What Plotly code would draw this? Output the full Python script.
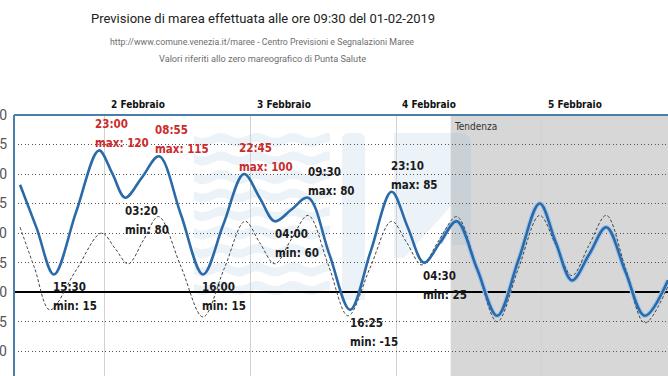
import math
import plotly.graph_objects as go

# ---------------- data ----------------
blue_times = [
    "2019-02-01 10:00", "2019-02-01 12:45", "2019-02-01 15:35", "2019-02-01 19:15",
    "2019-02-01 23:00", "2019-02-02 01:10", "2019-02-02 03:20", "2019-02-02 06:05",
    "2019-02-02 08:55", "2019-02-02 12:30", "2019-02-02 16:10", "2019-02-02 19:30",
    "2019-02-02 22:55", "2019-02-03 01:30", "2019-02-03 04:00", "2019-02-03 06:45",
    "2019-02-03 09:30", "2019-02-03 13:00", "2019-02-03 16:25", "2019-02-03 19:50",
    "2019-02-03 23:15", "2019-02-04 01:55", "2019-02-04 04:35", "2019-02-04 07:15",
    "2019-02-04 10:00", "2019-02-04 13:20", "2019-02-04 16:40", "2019-02-04 20:10",
    "2019-02-04 23:40", "2019-02-05 02:20", "2019-02-05 05:00", "2019-02-05 07:50",
    "2019-02-05 10:40", "2019-02-05 13:50", "2019-02-05 17:00", "2019-02-05 20:50",
]
blue_vals = [
    91, 54, 15, 68,
    120, 101, 80, 97,
    115, 66, 15, 57,
    100, 80, 60, 70,
    80, 32, -15, 35,
    85, 55, 25, 42,
    60, 20, -20, 27,
    75, 42, 10, 32,
    55, 17, -20, 10,
]

astro_times = [
    "2019-02-01 10:00", "2019-02-01 12:25", "2019-02-01 14:55", "2019-02-01 19:10",
    "2019-02-01 23:25", "2019-02-02 01:40", "2019-02-02 03:50", "2019-02-02 06:20",
    "2019-02-02 08:50", "2019-02-02 12:30", "2019-02-02 16:10", "2019-02-02 19:40",
    "2019-02-02 23:05", "2019-02-03 01:30", "2019-02-03 04:00", "2019-02-03 06:45",
    "2019-02-03 09:30", "2019-02-03 12:50", "2019-02-03 16:05", "2019-02-03 19:40",
    "2019-02-03 23:15", "2019-02-04 01:45", "2019-02-04 04:15", "2019-02-04 07:05",
    "2019-02-04 10:00", "2019-02-04 13:20", "2019-02-04 16:40", "2019-02-04 20:10",
    "2019-02-04 23:40", "2019-02-05 02:20", "2019-02-05 05:00", "2019-02-05 07:50",
    "2019-02-05 10:40", "2019-02-05 13:50", "2019-02-05 17:00", "2019-02-05 20:50",
]
astro_vals = [
    55, 20, -15, 18,
    50, 37, 24, 44,
    64, 22, -21, 20,
    60, 42, 24, 45,
    65, 23, -20, 20,
    60, 42, 23, 44,
    64, 20, -25, 20,
    65, 40, 14, 40,
    65, 20, -26, 5,
]

# labelled extremes of the forecast
ext_times = ["2019-02-01 15:30", "2019-02-01 23:00", "2019-02-02 03:20", "2019-02-02 08:55",
             "2019-02-02 16:00", "2019-02-02 22:45", "2019-02-03 04:00", "2019-02-03 09:30",
             "2019-02-03 16:25", "2019-02-03 23:10", "2019-02-04 04:30"]
ext_hours = ["15:30", "23:00", "03:20", "08:55", "16:00", "22:45", "04:00", "09:30",
             "16:25", "23:10", "04:30"]
ext_kind = ["min", "max", "min", "max", "min", "max", "min", "max", "min", "max", "min"]
ext_vals = [15, 120, 80, 115, 15, 100, 60, 80, -15, 85, 25]

day_starts = ["2019-02-02", "2019-02-03", "2019-02-04", "2019-02-05"]
day_labels = ["2 Febbraio", "3 Febbraio", "4 Febbraio", "5 Febbraio"]

tendenza_start = "2019-02-04 09:00"
x_range = ["2019-02-01 09:00", "2019-02-05 20:50"]
y_range = [-71, 150]

TITLE = "Previsione di marea effettuata alle ore 09:30 del 01-02-2019"
SUB1 = "http://www.comune.venezia.it/maree - Centro Previsioni e Segnalazioni Maree"
SUB2 = "Valori riferiti allo zero mareografico di Punta Salute"

# ---------------- styling ----------------
W, H = 668, 376
ML, MT = 14, 115
COND = "DejaVu Sans Condensed, Roboto, sans-serif"
TITLEF = "Roboto, sans-serif"
BLUE = "#2b6aa8"
FRAME = "#4a7eab"
RED = "#cc2b2b"


def pxx(x):
    return (x - ML) / (W - ML)


def pxy(y):
    return (H - y) / (H - MT)


fig = go.Figure()

# halo of the trend section
ti = blue_times.index("2019-02-04 07:15")
fig.add_trace(go.Scatter(x=blue_times[ti:], y=blue_vals[ti:], mode="lines",
                         line=dict(color="#a6c7ea", width=5, shape="spline", smoothing=1.0),
                         hoverinfo="skip"))
fig.add_trace(go.Scatter(x=astro_times, y=astro_vals, mode="lines",
                         line=dict(color="#444444", width=1, dash="3px,2px", shape="spline", smoothing=1.0),
                         hoverinfo="skip"))
fig.add_trace(go.Scatter(x=blue_times, y=blue_vals, mode="lines",
                         line=dict(color=BLUE, width=2.6, shape="spline", smoothing=1.0),
                         hoverinfo="skip"))

shapes = []
# trend area
shapes.append(dict(type="rect", xref="x", yref="paper", x0=tendenza_start, x1=x_range[1],
                   y0=0, y1=1, fillcolor="#d7d7d7", line=dict(width=0), layer="below"))

# faint watermark (logo) ---------------------------------------------
WM = "rgba(120,165,210,0.15)"
for k in range(9):
    yc = 140 + k * 18.5
    top = []
    bot = []
    n = 40
    x0, x1 = 194, 330
    for i in range(n + 1):
        x = x0 + (x1 - x0) * i / n
        top.append((x, yc - 4.5 + 2.6 * math.sin(2 * math.pi * (x - x0) / 36)))
    for i in range(n, -1, -1):
        x = x0 + (x1 - x0) * i / n
        bot.append((x, yc + 4.5 + 2.6 * math.sin(2 * math.pi * (x - x0) / 36)))
    pts = top + bot
    path = "M " + " L ".join(f"{pxx(a):.5f},{pxy(b):.5f}" for a, b in pts) + " Z"
    shapes.append(dict(type="path", xref="paper", yref="paper", path=path,
                       fillcolor=WM, line=dict(width=0), layer="below"))
# vertical bar
shapes.append(dict(type="path", xref="paper", yref="paper",
                   path=(f"M {pxx(342):.5f},{pxy(300):.5f} L {pxx(342):.5f},{pxy(140):.5f} "
                         f"Q {pxx(342):.5f},{pxy(133):.5f} {pxx(349):.5f},{pxy(133):.5f} "
                         f"L {pxx(358):.5f},{pxy(133):.5f} Q {pxx(365):.5f},{pxy(133):.5f} {pxx(365):.5f},{pxy(140):.5f} "
                         f"L {pxx(365):.5f},{pxy(300):.5f} Z"),
                   fillcolor=WM, line=dict(width=0), layer="below"))
# right block with diagonal cut
shapes.append(dict(type="path", xref="paper", yref="paper",
                   path=(f"M {pxx(394):.5f},{pxy(245):.5f} L {pxx(394):.5f},{pxy(133):.5f} "
                         f"L {pxx(460):.5f},{pxy(133):.5f} Q {pxx(471):.5f},{pxy(133):.5f} {pxx(471):.5f},{pxy(145):.5f} "
                         f"L {pxx(471):.5f},{pxy(245):.5f} L {pxx(452):.5f},{pxy(245):.5f} "
                         f"L {pxx(452):.5f},{pxy(205):.5f} L {pxx(404):.5f},{pxy(258):.5f} L {pxx(394):.5f},{pxy(258):.5f} Z"),
                   fillcolor=WM, line=dict(width=0), layer="below"))

# frame lines
shapes.append(dict(type="line", xref="paper", yref="paper", x0=0, x1=1, y0=1, y1=1,
                   line=dict(color=FRAME, width=2)))
shapes.append(dict(type="line", xref="paper", yref="paper", x0=0, x1=0, y0=0, y1=1,
                   line=dict(color=FRAME, width=2)))

annotations = [
    dict(text=TITLE, xref="paper", yref="paper", x=pxx(263), y=pxy(18), showarrow=False,
         xanchor="center", yanchor="middle", font=dict(family=TITLEF, size=13, color="#222222")),
    dict(text=SUB1, xref="paper", yref="paper", x=pxx(262), y=pxy(42), showarrow=False,
         xanchor="center", yanchor="middle", font=dict(family=TITLEF, size=8.8, color="#6e6e6e")),
    dict(text=SUB2, xref="paper", yref="paper", x=pxx(262), y=pxy(59), showarrow=False,
         xanchor="center", yanchor="middle", font=dict(family=TITLEF, size=9.2, color="#6e6e6e")),
    dict(text="Tendenza", xref="x", yref="paper", x=tendenza_start, y=1, yshift=-11,
         xanchor="left", xshift=1, yanchor="middle", showarrow=False,
         font=dict(family=COND, size=10, color="#333333")),
]
for d, lab in zip(day_starts, day_labels):
    annotations.append(dict(text=f"<b>{lab}</b>", xref="x", yref="paper", x=d, y=1, yshift=11,
                            xanchor="left", xshift=4, yanchor="middle", showarrow=False,
                            font=dict(family=COND, size=10, color="#111111")))

for t, hh, kind, v in zip(ext_times, ext_hours, ext_kind, ext_vals):
    red = kind == "max" and v >= 100
    col = RED if red else "#1a1a1a"
    xs = -6 if red else -2
    if kind == "max":
        s1, s2 = 26, 7
    else:
        s1, s2 = -13, -32
    for txt, s in ((hh, s1), (f"{kind}: {v}", s2)):
        annotations.append(dict(text=f"<b>{txt}</b>", x=t, y=v, xref="x", yref="y",
                                xanchor="left", yanchor="middle", xshift=xs, yshift=s,
                                showarrow=False,
                                font=dict(family=COND, size=11.5, color=col)))

fig.update_layout(
    width=W, height=H,
    margin=dict(l=ML, r=0, t=MT, b=0, autoexpand=False),
    paper_bgcolor="white", plot_bgcolor="white",
    showlegend=False,
    shapes=shapes,
    annotations=annotations,
    xaxis=dict(range=x_range, type="date", showticklabels=False, ticks="",
               showgrid=True, gridcolor="#d2d2d2", gridwidth=1, automargin=False,
               tick0="2019-02-02", dtick=86400000, zeroline=False, showline=False),
    yaxis=dict(range=y_range, tick0=0, dtick=25, showgrid=True, gridcolor="#555555",
               gridwidth=1, griddash="1px,2.5px", zeroline=True, zerolinecolor="#000000",
               zerolinewidth=2, ticks="", showline=False, automargin=False,
               ticklabelstandoff=6,
               tickfont=dict(family="Roboto, sans-serif", size=14, color="#555555")),
)

fig.write_html("out.html", config={"displayModeBar": False},
               post_script="document.body.style.margin='0';")
